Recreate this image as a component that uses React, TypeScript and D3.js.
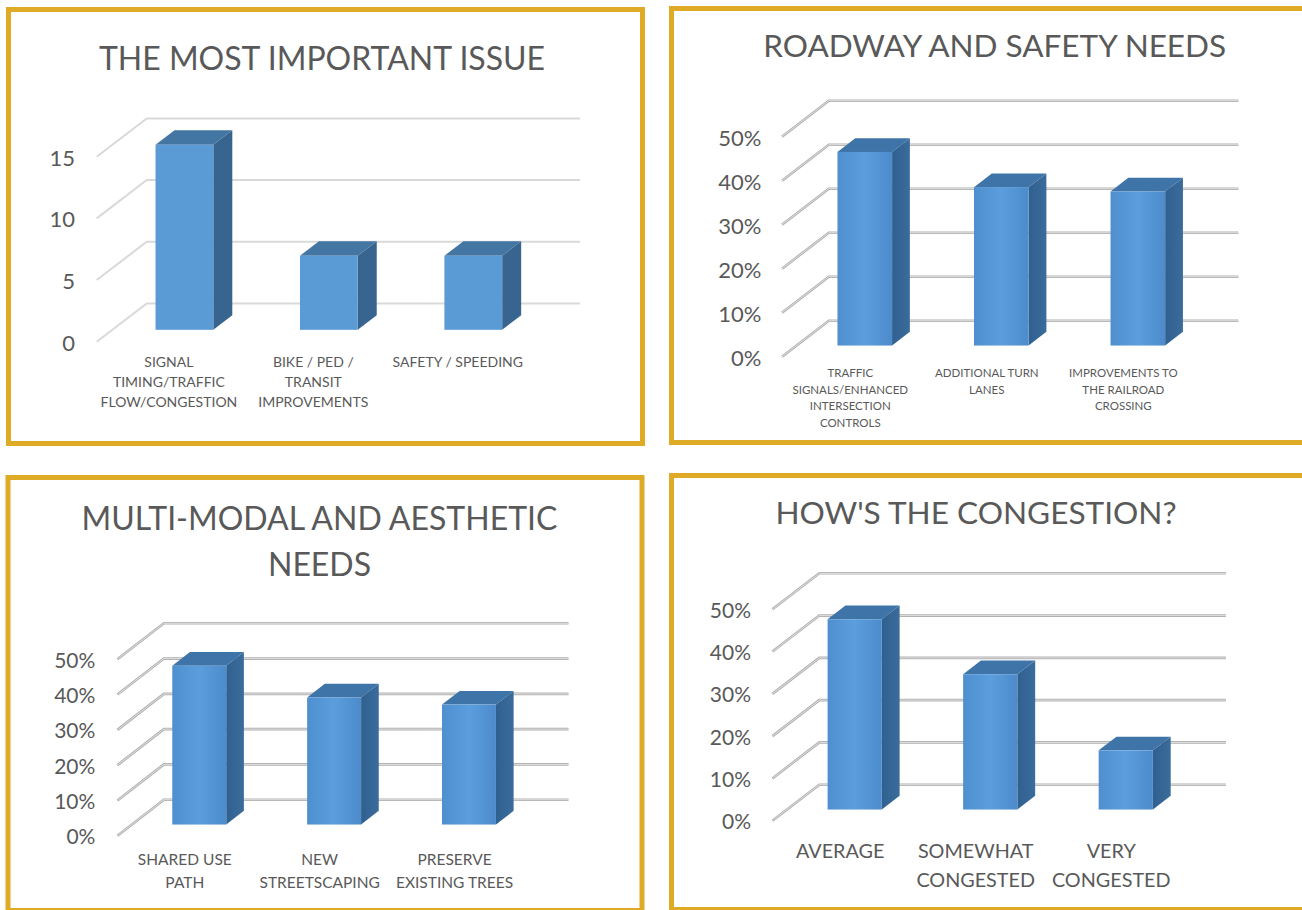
import React from "react";
import * as d3 from "d3";

// ---- data ----
const issueCategories = [
  ["SIGNAL", "TIMING/TRAFFIC", "FLOW/CONGESTION"],
  ["BIKE / PED /", "TRANSIT", "IMPROVEMENTS"],
  ["SAFETY / SPEEDING"],
];
const issueValues = [15, 6, 6];
const issueTicks = [0, 5, 10, 15];

const roadwayCategories = [
  ["TRAFFIC", "SIGNALS/ENHANCED", "INTERSECTION", "CONTROLS"],
  ["ADDITIONAL TURN", "LANES"],
  ["IMPROVEMENTS TO", "THE RAILROAD", "CROSSING"],
];
const roadwayValues = [0.44, 0.36, 0.35];

const multimodalCategories = [
  ["SHARED USE", "PATH"],
  ["NEW", "STREETSCAPING"],
  ["PRESERVE", "EXISTING TREES"],
];
const multimodalValues = [0.45, 0.36, 0.34];

const congestionCategories = [
  ["AVERAGE"],
  ["SOMEWHAT", "CONGESTED"],
  ["VERY", "CONGESTED"],
];
const congestionValues = [0.45, 0.32, 0.14];

const percentTicks = [0, 0.1, 0.2, 0.3, 0.4, 0.5];

const GOLD = "#DFAA25";
const TEXT = "#595959";
const FONT = "Lato, 'Open Sans', sans-serif";

type PanelProps = {
  id: string;
  frame: { x: number; y: number; w: number; h: number };
  title: string[];
  titleX: number;
  titleY: number;
  titleSize: number;
  titleGap?: number;
  categories: string[][];
  values: number[];
  ticks: number[];
  fmt: (v: number) => string;
  x0: number;
  x1: number;
  y0: number;
  yTop: number;
  depth: [number, number];
  tickX: number;
  tickSize: number;
  labelY: number;
  labelSize: number;
  labelGap: number;
  glossy: boolean;
};

const Panel = (p: PanelProps) => {
  const max = p.ticks[p.ticks.length - 1];
  const y = d3.scaleLinear().domain([0, max]).range([p.y0, p.yTop]);
  const keys = p.categories.map((c) => c.join(" "));
  const x = d3.scaleBand().domain(keys).range([p.x0, p.x1]).padding(0);
  const [dx, dy] = p.depth;
  // bars sit in the middle of the floor depth
  const f0 = 0.31;
  const f1 = 0.69;
  const barW = x.bandwidth() * 0.4;
  const ddx = (f1 - f0) * dx;
  const ddy = (f1 - f0) * dy;
  const pts = (a: number[][]) => a.map((q) => q.join(",")).join(" ");

  const front = p.glossy ? `url(#${p.id}-front)` : "#5B9BD5";
  const side = p.glossy ? `url(#${p.id}-side)` : "#386590";
  const top = p.glossy ? "#3F74A8" : "#4476A4";

  return (
    <g>
      <defs>
        <linearGradient id={`${p.id}-front`} x1="0" x2="1" y1="0" y2="0">
          <stop offset="0" stopColor="#4F8FCF" />
          <stop offset="0.5" stopColor="#5B9EDD" />
          <stop offset="1" stopColor="#4D8BCB" />
        </linearGradient>
        <linearGradient id={`${p.id}-side`} x1="0" x2="1" y1="0" y2="0">
          <stop offset="0" stopColor="#30608F" />
          <stop offset="1" stopColor="#3A6C9C" />
        </linearGradient>
      </defs>
      <rect
        x={p.frame.x}
        y={p.frame.y}
        width={p.frame.w}
        height={p.frame.h}
        fill="none"
        stroke={GOLD}
        strokeWidth={5}
      />
      {p.title.map((t, i) => (
        <text
          key={t}
          x={p.titleX}
          y={p.titleY + i * (p.titleGap || 0)}
          textAnchor="middle"
          fontFamily={FONT}
          fontSize={p.titleSize}
          fill={TEXT}
        >
          {t}
        </text>
      ))}
      {/* gridlines: front diagonal + back wall */}
      {p.ticks.map((t) => {
        const yy = y(t);
        const path = `M${p.x0},${yy}L${p.x0 + dx},${yy + dy}L${p.x1 + dx},${yy + dy}`;
        return p.glossy ? (
          <g key={t}>
            <path d={path} fill="none" stroke="#B0B0B0" strokeWidth={2.6} />
            <path d={path} fill="none" stroke="#E4E4E4" strokeWidth={0.9} />
          </g>
        ) : (
          <path key={t} d={path} fill="none" stroke="#D9D9D9" strokeWidth={2} />
        );
      })}
      {/* tick labels */}
      {p.ticks.map((t) => (
        <text
          key={t}
          x={p.tickX}
          y={y(t) + 1}
          dy="0.36em"
          textAnchor="end"
          fontFamily={FONT}
          fontSize={p.tickSize}
          fill={TEXT}
        >
          {p.fmt(t)}
        </text>
      ))}
      {/* bars */}
      {p.values.map((v, i) => {
        const cx = (x(keys[i]) as number) + x.bandwidth() / 2;
        const fx = cx - barW / 2 + f0 * dx;
        const fb = y(0) + f0 * dy;
        const ft = y(v) + f0 * dy;
        return (
          <g key={keys[i]}>
            <polygon
              points={pts([
                [fx, ft],
                [fx + ddx, ft + ddy],
                [fx + barW + ddx, ft + ddy],
                [fx + barW, ft],
              ])}
              fill={top}
            />
            <polygon
              points={pts([
                [fx + barW, fb],
                [fx + barW + ddx, fb + ddy],
                [fx + barW + ddx, ft + ddy],
                [fx + barW, ft],
              ])}
              fill={side}
            />
            <rect x={fx} y={ft} width={barW} height={fb - ft} fill={front} />
          </g>
        );
      })}
      {/* category labels */}
      {p.categories.map((lines, i) => {
        const cx = (x(keys[i]) as number) + x.bandwidth() / 2;
        return (
          <text
            key={keys[i]}
            textAnchor="middle"
            fontFamily={FONT}
            fontSize={p.labelSize}
            fill={TEXT}
          >
            {lines.map((l, j) => (
              <tspan key={j} x={cx} y={p.labelY + j * p.labelGap}>
                {l}
              </tspan>
            ))}
          </text>
        );
      })}
    </g>
  );
};

const pct = (v: number) => `${Math.round(v * 100)}%`;

export default function App() {
  return (
    <svg
      width={1302}
      height={910}
      style={{ position: "absolute", left: 0, top: 0, display: "block", background: "#fff" }}
    >
      <Panel
        id="p1"
        frame={{ x: 8.5, y: 9.5, w: 634, h: 434 }}
        title={["THE MOST IMPORTANT ISSUE"]}
        titleX={322}
        titleY={70}
        titleSize={32}
        categories={issueCategories}
        values={issueValues}
        ticks={issueTicks}
        fmt={(v) => `${v}`}
        x0={96.7}
        x1={530}
        y0={341.7}
        yTop={156.7}
        depth={[50, -38.3]}
        tickX={75}
        tickSize={22}
        labelY={367}
        labelSize={14}
        labelGap={20}
        glossy={false}
      />
      <Panel
        id="p2"
        frame={{ x: 671.5, y: 8.5, w: 700, h: 434 }}
        title={["ROADWAY AND SAFETY NEEDS"]}
        titleX={994.7}
        titleY={56.7}
        titleSize={31.5}
        categories={roadwayCategories}
        values={roadwayValues}
        ticks={percentTicks}
        fmt={pct}
        x0={782}
        x1={1191.6}
        y0={356.7}
        yTop={136.7}
        depth={[46.8, -36]}
        tickX={761.5}
        tickSize={22}
        labelY={377}
        labelSize={11.5}
        labelGap={16.5}
        glossy={true}
      />
      <Panel
        id="p3"
        frame={{ x: 8, y: 477.5, w: 634, h: 433 }}
        title={["MULTI-MODAL AND AESTHETIC", "NEEDS"]}
        titleX={319.5}
        titleY={530}
        titleSize={32}
        titleGap={45.5}
        categories={multimodalCategories}
        values={multimodalValues}
        ticks={percentTicks}
        fmt={pct}
        x0={117.4}
        x1={522}
        y0={835.7}
        yTop={659.3}
        depth={[46.5, -36]}
        tickX={95.4}
        tickSize={21}
        labelY={864.6}
        labelSize={15.5}
        labelGap={23.4}
        glossy={true}
      />
      <Panel
        id="p4"
        frame={{ x: 671.5, y: 475.5, w: 700, h: 434 }}
        title={["HOW'S THE CONGESTION?"]}
        titleX={976}
        titleY={524}
        titleSize={31.6}
        categories={congestionCategories}
        values={congestionValues}
        ticks={percentTicks}
        fmt={pct}
        x0={772.4}
        x1={1179}
        y0={820.7}
        yTop={609.3}
        depth={[46.9, -36]}
        tickX={751}
        tickSize={21}
        labelY={858.3}
        labelSize={19.8}
        labelGap={29}
        glossy={true}
      />
    </svg>
  );
}
